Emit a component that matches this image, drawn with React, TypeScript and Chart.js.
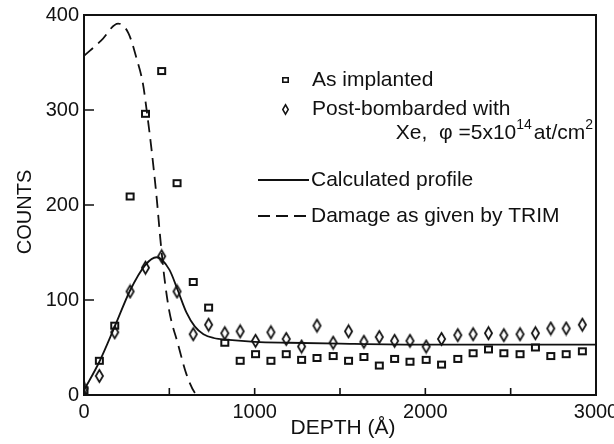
import React, { useEffect, useRef } from "react";
import { Chart, registerables } from "chart.js";
Chart.register(...registerables);

// Measurement depths (Å) shared by both data series
const depths = [0, 90, 180, 270, 360, 455, 545, 640, 730, 825, 915, 1005, 1095, 1185, 1275, 1365, 1460, 1550, 1640, 1730, 1820, 1910, 2005, 2095, 2190, 2280, 2370, 2460, 2555, 2645, 2735, 2825, 2920];
// As implanted (squares)
const asImplanted = [5, 36, 73, 209, 296, 341, 223, 119, 92, 55, 36, 43, 36, 43, 37, 39, 41, 36, 40, 31, 38, 35, 37, 32, 38, 44, 48, 44, 43, 50, 41, 43, 46];
// Post-bombarded (diamonds)
const postBombarded = [7, 20, 66, 109, 134, 146, 109, 64, 74, 65, 67, 57, 66, 59, 51, 73, 55, 67, 56, 61, 57, 57, 51, 59, 63, 64, 65, 63, 64, 65, 70, 70, 74];
// Calculated profile (solid line)
const calcDepth = [0, 90, 180, 270, 360, 425, 500, 550, 600, 650, 700, 760, 850, 1000, 1200, 1500, 2000, 2500, 3000];
const calcCounts = [5, 35, 72, 110, 137, 145, 132, 110, 87, 72, 64, 60, 58, 56, 55, 54, 53, 53, 53];
// Damage as given by TRIM (dashed line)
const dmgDepth = [0, 100, 200, 260, 310, 345, 367, 396, 425, 448, 470, 500, 550, 600, 650, 665];
const dmgCounts = [357, 373, 391, 381, 353, 328, 300, 258, 209, 163, 125, 88, 54, 22, 2, 0];

const xMinorTicks = [500, 1000, 1500, 2000, 2500];
const xLabelled = [0, 1000, 2000, 3000];
const yInnerTicks = [100, 200, 300];
const seriesLabels = ["As implanted", "Post-bombarded with", "Calculated profile", "Damage as given by TRIM"];
const doseText = ["Xe,  φ =5x10", "14", "at/cm", "2"];
const xTitle = "DEPTH (Å)";
const yTitle = "COUNTS";

const FONT = "'Liberation Sans', Arial, sans-serif";
const INK = "#111";

function makeSquare(w: number, h: number, lw: number): HTMLCanvasElement {
  const c = document.createElement("canvas");
  c.width = w + 2;
  c.height = h + 2;
  const g = c.getContext("2d")!;
  g.strokeStyle = INK;
  g.lineWidth = lw;
  g.strokeRect(1 + lw / 2, 1 + lw / 2, w - lw, h - lw);
  return c;
}

function makeDiamond(w: number, h: number, lw: number): HTMLCanvasElement {
  const c = document.createElement("canvas");
  c.width = w + 2;
  c.height = h + 2;
  const g = c.getContext("2d")!;
  const cx = (w + 2) / 2;
  const cy = (h + 2) / 2;
  g.strokeStyle = INK;
  g.lineWidth = lw;
  g.beginPath();
  g.moveTo(cx, cy - h / 2 + lw / 2);
  g.lineTo(cx + w / 2 - lw / 2, cy);
  g.lineTo(cx, cy + h / 2 - lw / 2);
  g.lineTo(cx - w / 2 + lw / 2, cy);
  g.closePath();
  g.stroke();
  return c;
}

export default function App() {
  const ref = useRef<HTMLCanvasElement | null>(null);

  useEffect(() => {
    if (!ref.current) return;
    const sq = makeSquare(9, 8, 2);
    const dia = makeDiamond(9, 14, 1.8);
    const sqSmall = makeSquare(7, 6, 1.6);
    const diaSmall = makeDiamond(7, 11, 1.5);

    const decor = {
      id: "decor",
      afterDraw(chart: any) {
        const { ctx, chartArea: a, scales } = chart;
        const x = scales.x;
        const y = scales.y;
        ctx.save();
        // frame
        ctx.strokeStyle = INK;
        ctx.lineWidth = 2;
        ctx.strokeRect(a.left, a.top, a.right - a.left, a.bottom - a.top);
        // inward ticks
        ctx.lineWidth = 1.6;
        ctx.beginPath();
        xMinorTicks.forEach((v) => {
          const px = x.getPixelForValue(v);
          ctx.moveTo(px, a.bottom);
          ctx.lineTo(px, a.bottom - 7);
        });
        yInnerTicks.forEach((v) => {
          const py = y.getPixelForValue(v);
          ctx.moveTo(a.left, py);
          ctx.lineTo(a.left + 10, py);
        });
        ctx.stroke();

        // axis titles
        ctx.fillStyle = INK;
        ctx.font = `20px ${FONT}`;
        ctx.textAlign = "center";
        ctx.textBaseline = "middle";
        ctx.save();
        ctx.translate(25, 212);
        ctx.rotate(-Math.PI / 2);
        ctx.fillText(yTitle, 0, 0);
        ctx.restore();
        ctx.font = `21px ${FONT}`;
        ctx.fillText(xTitle, 343, 428);

        // legend
        ctx.font = `21px ${FONT}`;
        ctx.textAlign = "left";
        ctx.drawImage(sqSmall, Math.round(285 - sqSmall.width / 2), Math.round(80 - sqSmall.height / 2));
        ctx.fillText(seriesLabels[0], 312, 80);
        ctx.drawImage(diaSmall, Math.round(285 - diaSmall.width / 2), Math.round(109 - diaSmall.height / 2));
        ctx.fillText(seriesLabels[1], 312, 109);

        // dose line, right aligned to frame
        const big = `21px ${FONT}`;
        const small = `14px ${FONT}`;
        ctx.font = big;
        const w0 = ctx.measureText(doseText[0]).width;
        const w2 = ctx.measureText(doseText[2]).width;
        ctx.font = small;
        const w1 = ctx.measureText(doseText[1]).width;
        const w3 = ctx.measureText(doseText[3]).width;
        let cx = 593 - (w0 + w1 + 2 + w2 + w3);
        const yDose = 133;
        ctx.font = big;
        ctx.fillText(doseText[0], cx, yDose);
        cx += w0;
        ctx.font = small;
        ctx.fillText(doseText[1], cx, yDose - 8);
        cx += w1 + 2;
        ctx.font = big;
        ctx.fillText(doseText[2], cx, yDose);
        cx += w2;
        ctx.font = small;
        ctx.fillText(doseText[3], cx, yDose - 8);

        // line samples
        ctx.font = big;
        ctx.lineWidth = 1.8;
        ctx.beginPath();
        ctx.moveTo(258, 180);
        ctx.lineTo(309, 180);
        ctx.stroke();
        ctx.fillText(seriesLabels[2], 311, 180);
        ctx.setLineDash([12, 6]);
        ctx.beginPath();
        ctx.moveTo(258, 216);
        ctx.lineTo(309, 216);
        ctx.stroke();
        ctx.setLineDash([]);
        ctx.fillText(seriesLabels[3], 311, 216);
        ctx.restore();
      },
    };

    const chart = new Chart(ref.current, {
      type: "scatter",
      data: {
        datasets: [
          {
            label: seriesLabels[0],
            data: depths.map((d, i) => ({ x: d, y: asImplanted[i] })),
            pointStyle: sq as any,
            pointRadius: 5,
            showLine: false,
          },
          {
            label: seriesLabels[1],
            data: depths.map((d, i) => ({ x: d, y: postBombarded[i] })),
            pointStyle: dia as any,
            pointRadius: 7,
            showLine: false,
          },
          {
            label: seriesLabels[2],
            data: calcDepth.map((d, i) => ({ x: d, y: calcCounts[i] })),
            showLine: true,
            borderColor: INK,
            borderWidth: 1.8,
            pointRadius: 0,
            cubicInterpolationMode: "monotone",
          } as any,
          {
            label: seriesLabels[3],
            data: dmgDepth.map((d, i) => ({ x: d, y: dmgCounts[i] })),
            showLine: true,
            borderColor: INK,
            borderWidth: 1.8,
            borderDash: [12, 7],
            pointRadius: 0,
            cubicInterpolationMode: "monotone",
          } as any,
        ],
      },
      options: {
        animation: false,
        responsive: false,
        devicePixelRatio: 1,
        layout: { padding: { top: 15, right: 18, bottom: 0, left: 0 } },
        plugins: { legend: { display: false }, tooltip: { enabled: false } },
        scales: {
          x: {
            type: "linear",
            min: 0,
            max: 3000,
            grid: { display: false, drawTicks: false },
            border: { display: false },
            ticks: {
              stepSize: 500,
              autoSkip: false,
              maxRotation: 0,
              padding: 5,
              color: INK,
              font: { family: FONT, size: 20 },
              callback: (v: any) => (xLabelled.includes(Number(v)) ? String(v) : ""),
            },
            afterFit: (s: any) => {
              s.height = 49;
              s.paddingLeft = 0;
              s.paddingRight = 0;
            },
          },
          y: {
            type: "linear",
            min: 0,
            max: 400,
            grid: { display: false, drawTicks: false },
            border: { display: false },
            ticks: {
              stepSize: 100,
              padding: 5,
              color: INK,
              font: { family: FONT, size: 20 },
            },
            afterFit: (s: any) => {
              s.width = 84;
              s.paddingTop = 0;
              s.paddingBottom = 0;
            },
          },
        },
      },
      plugins: [decor],
    });
    return () => chart.destroy();
  }, []);

  return (
    <div style={{ position: "fixed", left: 0, top: 0, width: 614, height: 444, background: "#fff" }}>
      <canvas ref={ref} width={614} height={444} />
    </div>
  );
}
